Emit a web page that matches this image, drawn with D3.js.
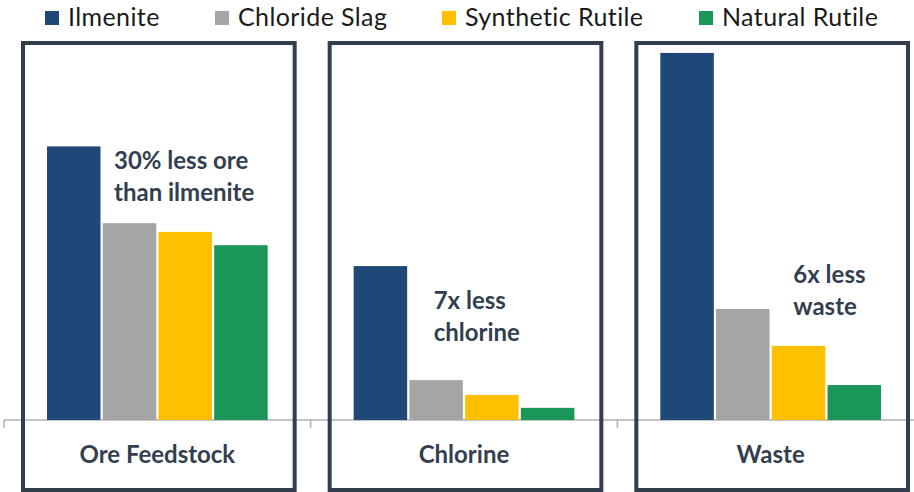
<!DOCTYPE html>
<html lang="en">

<head>
    <meta charset="UTF-8">
    <title>Titanium Feedstocks</title>
    <script src="https://d3js.org/d3.v7.min.js"></script>
    <style>
        body {
            margin: 0;
            padding: 0;
            background-color: #fff;
            font-family: Lato, "Open Sans", sans-serif;
        }

        svg {
            display: block;
        }
    </style>
</head>

<body>
    <svg id="chart" width="914" height="492"></svg>

    <script>
        // data (relative units)
        var categories = ["Ore Feedstock", "Chlorine", "Waste"];
        var seriesNames = ["Ilmenite", "Chloride Slag", "Synthetic Rutile", "Natural Rutile"];
        var seriesColors = ["#1f4778", "#a5a5a5", "#ffc000", "#1a9658"];
        var ilmenite = [7.2, 4.05, 9.66];
        var chlorideSlag = [5.18, 1.05, 2.92];
        var syntheticRutile = [4.95, 0.66, 1.95];
        var naturalRutile = [4.6, 0.32, 0.92];
        var notes = [
            ["30% less ore", "than ilmenite"],
            ["7x less", "chlorine"],
            ["6x less", "waste"]
        ];

        var series = [ilmenite, chlorideSlag, syntheticRutile, naturalRutile];
        var textColor = "#333f50";

        var svg = d3.select("#chart");

        var x = d3.scaleBand().domain(categories).range([4, 924]);
        var xInner = d3.scaleBand().domain(seriesNames)
            .range([43, x.bandwidth() - 43]).paddingInner(0.04);
        var y = d3.scaleLinear().domain([0, 10]).range([420, 40]);

        // legend
        var legendX = [45, 215, 442, 699];
        var legend = svg.append("g");
        seriesNames.forEach(function (name, i) {
            legend.append("rect")
                .attr("x", legendX[i]).attr("y", 11)
                .attr("width", 14).attr("height", 14)
                .attr("fill", seriesColors[i]);
            legend.append("text")
                .attr("x", legendX[i] + 23).attr("y", 26)
                .attr("font-size", 25)
                .attr("letter-spacing", 0.4)
                .attr("fill", "#1a1a1a")
                .text(name);
        });

        // axis line with ticks
        var axis = svg.append("g").attr("transform", "translate(0,420)");
        axis.append("line")
            .attr("x1", x.range()[0]).attr("x2", 914)
            .attr("stroke", "#b0b0b0").attr("stroke-width", 1.5);
        axis.selectAll(".tick")
            .data(categories)
            .enter().append("line")
            .attr("x1", function (d) { return x(d); })
            .attr("x2", function (d) { return x(d); })
            .attr("y1", 0).attr("y2", 8)
            .attr("stroke", "#b0b0b0").attr("stroke-width", 1.5);

        // bars
        var groups = svg.selectAll(".cat")
            .data(categories)
            .enter().append("g")
            .attr("transform", function (d) { return "translate(" + x(d) + ",0)"; });

        groups.selectAll("rect")
            .data(function (d, ci) {
                return seriesNames.map(function (s, si) {
                    return { name: s, value: series[si][ci], color: seriesColors[si] };
                });
            })
            .enter().append("rect")
            .attr("x", function (d) { return xInner(d.name); })
            .attr("y", function (d) { return y(d.value); })
            .attr("width", xInner.bandwidth())
            .attr("height", function (d) { return y(0) - y(d.value); })
            .attr("fill", function (d) { return d.color; });

        // frames around each category
        groups.append("rect")
            .attr("x", 19)
            .attr("y", 43)
            .attr("width", x.bandwidth() - 35)
            .attr("height", 447)
            .attr("fill", "none")
            .attr("stroke", "#323e4c")
            .attr("stroke-width", 4);

        // category labels
        groups.append("text")
            .attr("x", x.bandwidth() / 2)
            .attr("y", 463)
            .attr("text-anchor", "middle")
            .attr("font-size", 24)
            .attr("font-weight", "bold")
            .attr("fill", textColor)
            .text(function (d) { return d; });

        // callouts
        var noteX = [110, 123, 176];
        var noteY = [169, 309, 283];
        groups.each(function (d, i) {
            var t = d3.select(this).append("text")
                .attr("font-size", 24)
                .attr("font-weight", "bold")
                .attr("fill", textColor);
            notes[i].forEach(function (line, j) {
                t.append("tspan")
                    .attr("x", noteX[i])
                    .attr("y", noteY[i] + j * 32)
                    .text(line);
            });
        });
    </script>
</body>

</html>
